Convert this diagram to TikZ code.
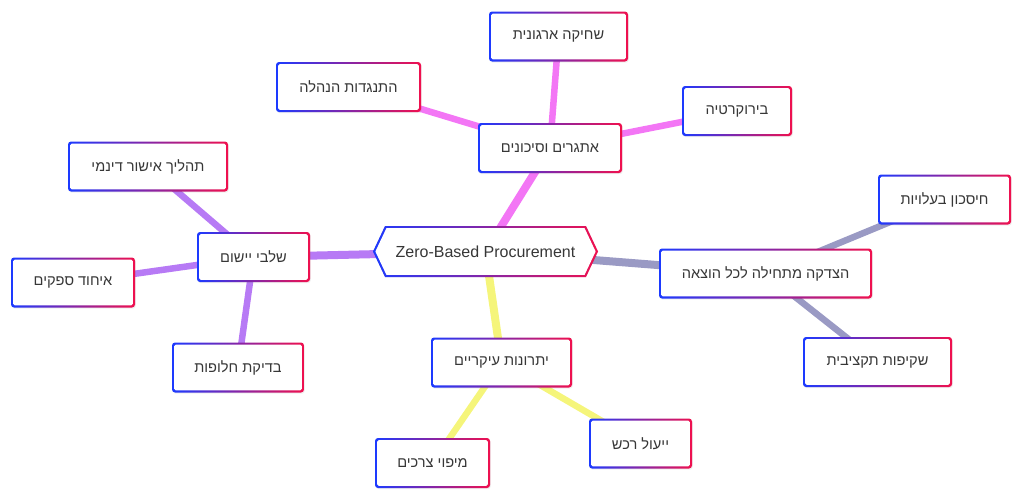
\documentclass[tikz,border=0pt]{standalone}
\usepackage{fontspec}
\setmainfont{Liberation Sans}
\newfontfamily\hebfont[Script=Hebrew]{Liberation Sans}
\TeXXeTstate=1
\usetikzlibrary{shadows}
\definecolor{bB}{RGB}{28,58,255}
\definecolor{bR}{RGB}{240,16,78}
\definecolor{txt}{RGB}{55,55,55}
\definecolor{cPink}{RGB}{243,118,245}
\definecolor{cPurp}{RGB}{183,122,245}
\definecolor{cGray}{RGB}{154,154,196}
\definecolor{cYel}{RGB}{245,245,122}
\pgfdeclarelayer{bg}
\pgfsetlayers{bg,main}
\tikzset{
  gbox/.style={rectangle, rounded corners=3pt, minimum height=50pt, inner sep=0pt,
    text=txt, font=\hebfont\fontsize{14.6}{18}\selectfont,
    drop shadow={opacity=0.12, shadow xshift=0.8pt, shadow yshift=-1.2pt},
    path picture={
      \shade[left color=bB, right color=bR]
        (path picture bounding box.south west) rectangle (path picture bounding box.north east);
      \fill[white, rounded corners=1.5pt]
        ([xshift=2.2pt,yshift=2.2pt]path picture bounding box.south west) rectangle
        ([xshift=-2.2pt,yshift=-2.2pt]path picture bounding box.north east);
    }},
  mainedge/.style={line width=8pt},
  subedge/.style={line width=6.5pt},
}
\begin{document}
\begin{tikzpicture}[x=1pt,y=-1pt]
\useasboundingbox (0,0) rectangle (1024,501);
% center
\node[text=txt, font=\fontsize{16}{19}\selectfont, minimum width=225pt, minimum height=51pt, inner sep=0pt] (c) at (485.5,251.5) {Zero-Based Procurement};
% main branches
\node[gbox, minimum width=144pt] (ch) at (550,148) {\beginR אתגרים וסיכונים\endR};
\node[gbox, minimum width=139pt] (ch1) at (558.5,36.5) {\beginR שחיקה ארגונית\endR};
\node[gbox, minimum width=110pt] (ch2) at (737,111) {\beginR בירוקרטיה\endR};
\node[gbox, minimum width=145pt] (ch3) at (348.5,87) {\beginR התנגדות הנהלה\endR};

\node[gbox, minimum width=113pt] (st) at (253.5,257) {\beginR שלבי יישום\endR};
\node[gbox, minimum width=160pt] (st1) at (148,166.5) {\beginR תהליך אישור דינמי\endR};
\node[gbox, minimum width=124pt] (st2) at (73,282.5) {\beginR איחוד ספקים\endR};
\node[gbox, minimum width=132pt] (st3) at (238,367.5) {\beginR בדיקת חלופות\endR};

\node[gbox, minimum width=213pt] (ju) at (765.5,273.5) {\beginR הצדקה מתחילה לכל הוצאה\endR};
\node[gbox, minimum width=133pt] (ju1) at (944.5,199.5) {\beginR חיסכון בעלויות\endR};
\node[gbox, minimum width=149pt] (ju2) at (877.5,362) {\beginR שקיפות תקציבית\endR};

\node[gbox, minimum width=141pt] (ad) at (501.5,362.5) {\beginR יתרונות עיקריים\endR};
\node[gbox, minimum width=115pt] (ad1) at (432.5,463) {\beginR מיפוי צרכים\endR};
\node[gbox, minimum width=103pt] (ad2) at (640.5,443.5) {\beginR ייעול רכש\endR};

\begin{pgfonlayer}{bg}
\draw[mainedge, cPink] (c.center) -- (ch.center);
\draw[subedge, cPink] (ch.center) -- (ch1.center);
\draw[subedge, cPink] (ch.center) -- (ch2.center);
\draw[subedge, cPink] (ch.center) -- (ch3.center);
\draw[mainedge, cPurp] (c.center) -- (st.center);
\draw[subedge, cPurp] (st.center) -- (st1.center);
\draw[subedge, cPurp] (st.center) -- (st2.center);
\draw[subedge, cPurp] (st.center) -- (st3.center);
\draw[mainedge, cGray] (c.center) -- (ju.center);
\draw[subedge, cGray] (ju.center) -- (ju1.center);
\draw[subedge, cGray] (ju.center) -- (ju2.center);
\draw[mainedge, cYel] (c.center) -- (ad.center);
\draw[subedge, cYel] (ad.center) -- (ad1.center);
\draw[subedge, cYel] (ad.center) -- (ad2.center);
% hexagon for the center node
\fill[black, opacity=0.12, xshift=0.8pt, yshift=-1.2pt]
  ([xshift=-112.5pt]c.center) -- ([xshift=-100.5pt,yshift=25.5pt]c.center) -- ([xshift=100.5pt,yshift=25.5pt]c.center)
  -- ([xshift=112.5pt]c.center) -- ([xshift=100.5pt,yshift=-25.5pt]c.center) -- ([xshift=-100.5pt,yshift=-25.5pt]c.center) -- cycle;
\shade[left color=bB, right color=bR]
  ([xshift=-112.5pt]c.center) -- ([xshift=-100.5pt,yshift=25.5pt]c.center) -- ([xshift=100.5pt,yshift=25.5pt]c.center)
  -- ([xshift=112.5pt]c.center) -- ([xshift=100.5pt,yshift=-25.5pt]c.center) -- ([xshift=-100.5pt,yshift=-25.5pt]c.center) -- cycle;
\fill[white]
  ([xshift=-110.1pt]c.center) -- ([xshift=-99.1pt,yshift=23.3pt]c.center) -- ([xshift=99.1pt,yshift=23.3pt]c.center)
  -- ([xshift=110.1pt]c.center) -- ([xshift=99.1pt,yshift=-23.3pt]c.center) -- ([xshift=-99.1pt,yshift=-23.3pt]c.center) -- cycle;
\end{pgfonlayer}
\end{tikzpicture}
\end{document}
